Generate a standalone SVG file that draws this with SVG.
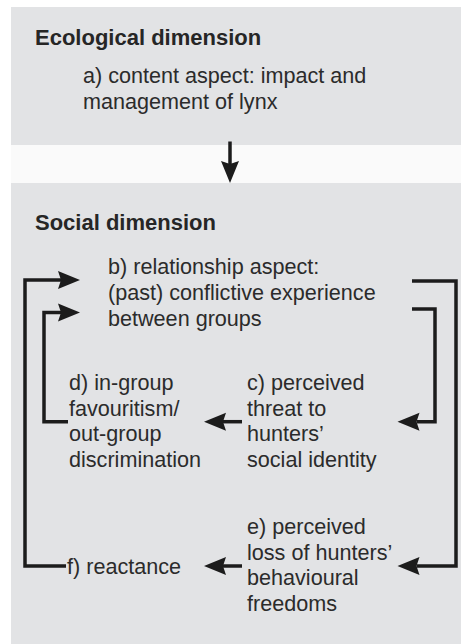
<svg xmlns="http://www.w3.org/2000/svg" width="461" height="644" viewBox="0 0 461 644">
  <style>
    .panel { fill: #e2e3e5; }
    .band { fill: #fafafa; }
    .head { font-family: "Liberation Sans", Arial, sans-serif; font-size: 22px; font-weight: bold; fill: #262626; }
    .txt { font-family: "Liberation Sans", Arial, sans-serif; font-size: 21.6px; fill: #2b2b2b; }
    .conn { fill: none; stroke: #1c1c1c; stroke-width: 3.5; stroke-linejoin: miter; }
  </style>
  <defs>
    <marker id="arrow" markerUnits="userSpaceOnUse" markerWidth="24" markerHeight="20" viewBox="0 -10 24 20" refX="3" refY="0" orient="auto">
      <path d="M0,-9 L22,0 L0,9 L3,0 z" fill="#1c1c1c"/>
    </marker>
  </defs>
  <rect x="0" y="0" width="461" height="644" fill="#ffffff"/>
  <rect class="panel" x="11" y="7" width="450" height="138"/>
  <rect class="band" x="11" y="145" width="450" height="38"/>
  <rect class="panel" x="11" y="183" width="450" height="461"/>

  <g id="ecological">
    <text class="head" x="35" y="45">Ecological dimension</text>
  </g>
  <g id="node-a">
    <text class="txt" x="83" y="83">a) content aspect: impact and</text>
    <text class="txt" x="83" y="109">management of lynx</text>
  </g>
  <g id="social">
    <text class="head" x="35" y="230">Social dimension</text>
  </g>
  <g id="node-b">
    <text class="txt" x="108" y="274">b) relationship aspect:</text>
    <text class="txt" x="108" y="300">(past) conflictive experience</text>
    <text class="txt" x="108" y="325.5">between groups</text>
  </g>
  <g id="node-d">
    <text class="txt" x="69" y="390">d) in-group</text>
    <text class="txt" x="69" y="415.7">favouritism/</text>
    <text class="txt" x="69" y="441.4">out-group</text>
    <text class="txt" x="69" y="467">discrimination</text>
  </g>
  <g id="node-c">
    <text class="txt" x="247" y="390">c) perceived</text>
    <text class="txt" x="247" y="415.7">threat to</text>
    <text class="txt" x="247" y="441.4">hunters’</text>
    <text class="txt" x="247" y="467">social identity</text>
  </g>
  <g id="node-e">
    <text class="txt" x="247" y="534">e) perceived</text>
    <text class="txt" x="247" y="559.5">loss of hunters’</text>
    <text class="txt" x="247" y="585">behavioural</text>
    <text class="txt" x="247" y="610.5">freedoms</text>
  </g>
  <g id="node-f">
    <text class="txt" x="67" y="573.5">f) reactance</text>
  </g>

  <g id="connectors">
    <path class="conn" d="M230,141.5 V164" marker-end="url(#arrow)"/>
    <path class="conn" d="M66,566 H25 V280 H61" marker-end="url(#arrow)"/>
    <path class="conn" d="M68,421.7 H44 V312.5 H61" marker-end="url(#arrow)"/>
    <path class="conn" d="M412,281 H456 V566 H416.5" marker-end="url(#arrow)"/>
    <path class="conn" d="M412,309 H435 V421.7 H416.5" marker-end="url(#arrow)"/>
    <path class="conn" d="M242,421.7 H223" marker-end="url(#arrow)"/>
    <path class="conn" d="M242,566 H223" marker-end="url(#arrow)"/>
  </g>
</svg>
